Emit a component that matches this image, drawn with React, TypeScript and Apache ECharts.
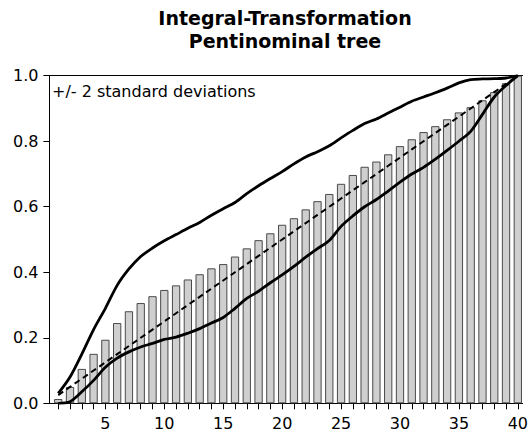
import React, { useEffect, useRef } from "react";
import * as echarts from "echarts";

const categories = [
  1, 2, 3, 4, 5, 6, 7, 8, 9, 10, 11, 12, 13, 14, 15, 16, 17, 18, 19, 20,
  21, 22, 23, 24, 25, 26, 27, 28, 29, 30, 31, 32, 33, 34, 35, 36, 37, 38, 39, 40,
];

const barValues = [
  0.013, 0.05, 0.105, 0.151, 0.194, 0.245, 0.281, 0.306, 0.327, 0.346,
  0.36, 0.378, 0.394, 0.412, 0.425, 0.448, 0.473, 0.498, 0.519, 0.545,
  0.565, 0.592, 0.617, 0.639, 0.67, 0.697, 0.722, 0.738, 0.76, 0.785,
  0.806, 0.828, 0.846, 0.867, 0.888, 0.904, 0.925, 0.95, 0.977, 1.0,
];

const upperBand = [
  0.03, 0.08, 0.15, 0.225, 0.29, 0.36, 0.41, 0.448, 0.474, 0.496,
  0.515, 0.534, 0.552, 0.574, 0.594, 0.613, 0.64, 0.664, 0.686, 0.707,
  0.731, 0.752, 0.768, 0.786, 0.81, 0.833, 0.854, 0.868, 0.886, 0.904,
  0.922, 0.935, 0.948, 0.962, 0.978, 0.988, 0.99, 0.991, 0.993, 1.0,
];

const lowerBand = [
  0.0, 0.005, 0.035, 0.07, 0.11, 0.138, 0.157, 0.172, 0.183, 0.195,
  0.202, 0.214, 0.228, 0.245, 0.262, 0.29, 0.32, 0.342, 0.368, 0.392,
  0.418, 0.446, 0.472, 0.497, 0.54, 0.572, 0.6, 0.622, 0.648, 0.675,
  0.7, 0.72, 0.745, 0.772, 0.8, 0.83, 0.882, 0.935, 0.97, 1.0,
];

const diagonal = [
  0.025, 0.05, 0.075, 0.1, 0.125, 0.15, 0.175, 0.2, 0.225, 0.25,
  0.275, 0.3, 0.325, 0.35, 0.375, 0.4, 0.425, 0.45, 0.475, 0.5,
  0.525, 0.55, 0.575, 0.6, 0.625, 0.65, 0.675, 0.7, 0.725, 0.75,
  0.775, 0.8, 0.825, 0.85, 0.875, 0.9, 0.925, 0.95, 0.975, 1.0,
];

const xTickLabels = [5, 10, 15, 20, 25, 30, 35, 40];

const titleLines = ["Integral-Transformation", "Pentinominal tree"];
const bandLabel = "+/- 2 standard deviations";

const FONT = "'DejaVu Sans', sans-serif";

export default function App() {
  const ref = useRef<HTMLDivElement>(null);

  useEffect(() => {
    document.body.style.margin = "0";
    if (!ref.current) return;
    const chart = echarts.init(ref.current, undefined, { renderer: "svg" });
    const pair = (vals: number[]) => categories.map((c, i) => [c, vals[i]]);
    const xMin = 0.25;
    const xMax = 40.4;

    chart.setOption({
      animation: false,
      backgroundColor: "#ffffff",
      grid: { left: 49.4, right: 4.6, top: 75.7, bottom: 30.7 },
      graphic: [
        {
          type: "text",
          x: 285,
          y: 6,
          style: {
            text: titleLines.join("\n"),
            font: `bold 19px ${FONT}`,
            fill: "#000",
            textAlign: "center",
            textVerticalAlign: "top",
            lineHeight: 23,
          },
        },
        {
          type: "text",
          x: 52,
          y: 91,
          z: 10,
          style: {
            text: bandLabel,
            font: `16px ${FONT}`,
            fill: "#000",
            textAlign: "left",
            textVerticalAlign: "middle",
          },
        },
      ],
      xAxis: [
        {
          type: "value",
          min: xMin,
          max: xMax,
          position: "bottom",
          axisLine: { show: true, onZero: false, lineStyle: { color: "#000", width: 1 } },
          axisTick: {
            show: true,
            customValues: categories,
            length: 6,
            lineStyle: { color: "#000", width: 1 },
          },
          axisLabel: {
            customValues: xTickLabels,
            margin: 12,
            color: "#000",
            fontSize: 16,
            fontFamily: FONT,
          },
          splitLine: { show: false },
        },
        {
          type: "value",
          min: xMin,
          max: xMax,
          position: "top",
          axisLine: { show: true, onZero: false, lineStyle: { color: "#000", width: 1 } },
          axisTick: { show: false },
          axisLabel: { show: false },
          splitLine: { show: false },
        },
      ],
      yAxis: {
        type: "value",
        min: 0,
        max: 1,
        interval: 0.2,
        axisLine: { show: true, onZero: false, lineStyle: { color: "#000", width: 1 } },
        axisTick: { show: true, length: 6, lineStyle: { color: "#000", width: 1 } },
        axisLabel: {
          margin: 11,
          color: "#000",
          fontSize: 16,
          fontFamily: FONT,
          formatter: (v: number) => v.toFixed(1),
        },
        splitLine: { show: false },
      },
      series: [
        {
          type: "bar",
          data: pair(barValues),
          barWidth: 8.3,
          itemStyle: { color: "#cfcfcf", borderColor: "#4a4a4a", borderWidth: 1 },
          z: 1,
        },
        {
          type: "line",
          data: pair(upperBand),
          smooth: 0.3,
          symbol: "none",
          lineStyle: { color: "#000", width: 2.8 },
          z: 3,
        },
        {
          type: "line",
          data: pair(lowerBand),
          smooth: 0.3,
          symbol: "none",
          lineStyle: { color: "#000", width: 2.8 },
          z: 3,
        },
        {
          type: "line",
          data: pair(diagonal),
          symbol: "none",
          lineStyle: { color: "#000", width: 2, type: [6, 4] },
          z: 3,
        },
      ],
    });

    return () => chart.dispose();
  }, []);

  return <div ref={ref} style={{ width: 531, height: 434 }} />;
}
